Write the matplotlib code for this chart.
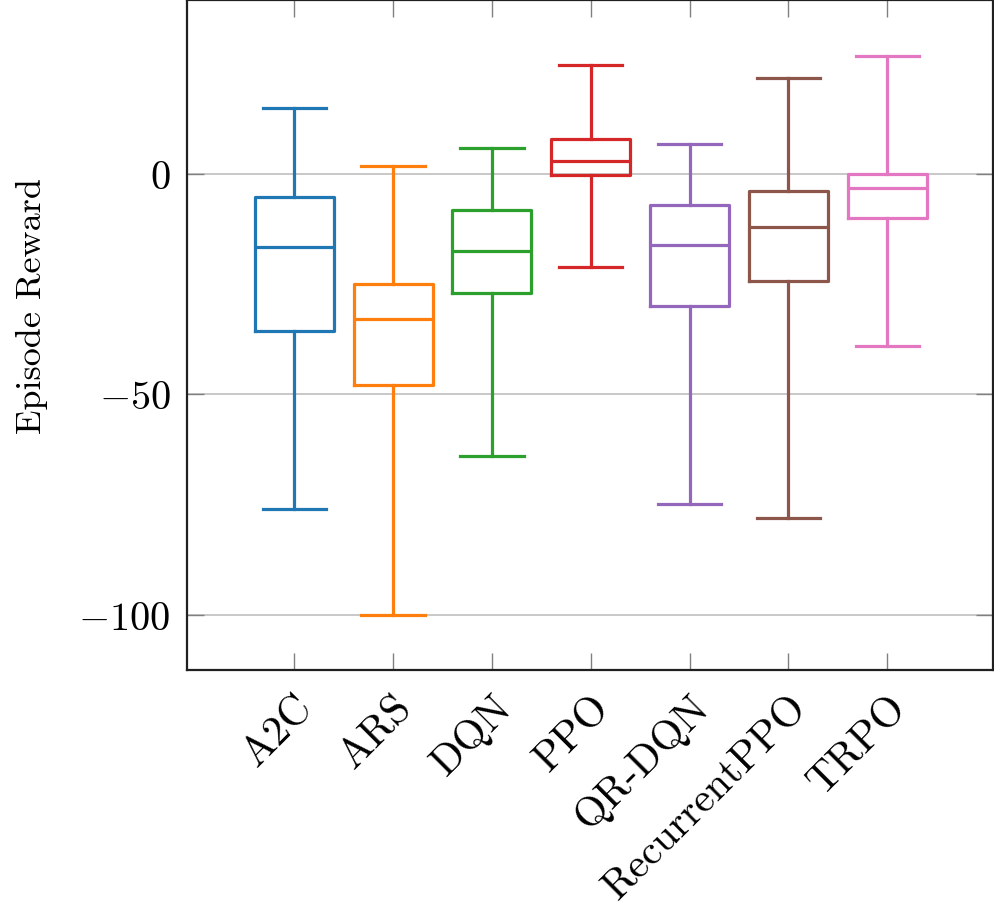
import matplotlib
matplotlib.use("Agg")
import matplotlib.pyplot as plt

plt.rcParams['font.family'] = ['cmr10', 'DejaVu Serif']
plt.rcParams['mathtext.fontset'] = 'cm'
plt.rcParams['axes.formatter.use_mathtext'] = True

categories = ["A2C", "ARS", "DQN", "PPO", "QR-DQN", "RecurrentPPO", "TRPO"]
whisker_high = [14.9, 1.9, 5.9, 24.8, 6.9, 21.8, 26.9]
q3_values = [-5.2, -25.0, -8.1, 7.9, -7.1, -3.9, -0.1]
medians = [-16.5, -33.0, -17.5, 2.9, -16.1, -12.1, -3.1]
q1_values = [-35.6, -47.9, -27.0, -0.2, -29.9, -24.3, -10.0]
whisker_low = [-76.0, -100.0, -64.0, -21.0, -75.0, -78.0, -39.0]
y_ticks = [0, -50, -100]
colors = ["#1f77b4", "#ff7f0e", "#2ca02c", "#d62728", "#9467bd", "#8c564b", "#e377c2"]

fig = plt.figure(figsize=(9.95, 9.12), dpi=100)
ax = fig.add_axes([0.1882, 0.2646, 0.9983 - 0.1882, 0.9989 - 0.2646])

ax.yaxis.grid(True, color="#c4c4c4", linewidth=1.3, zorder=0)
ax.set_axisbelow(True)

for i, name in enumerate(categories):
    st = [dict(label=name, whislo=whisker_low[i], q1=q1_values[i], med=medians[i],
               q3=q3_values[i], whishi=whisker_high[i], fliers=[])]
    c = colors[i]
    ax.bxp(st, positions=[i + 1], widths=0.8, capwidths=0.64, showfliers=False,
           boxprops=dict(color=c, linewidth=2.3),
           whiskerprops=dict(color=c, linewidth=2.3),
           capprops=dict(color=c, linewidth=2.3),
           medianprops=dict(color=c, linewidth=2.3),
           manage_ticks=False)

ax.set_xlim(-0.083, 8.073)
ax.set_ylim(-112.5, 39.5)
ax.set_xticks(range(1, len(categories) + 1))
ax.set_xticklabels(categories, rotation=45, ha="right", rotation_mode="anchor", fontsize=30)
ax.set_yticks(y_ticks)
ax.tick_params(axis="y", labelsize=29)
ax.tick_params(axis="both", direction="in", length=12, width=1, color="#808080",
               top=True, right=True)
ax.tick_params(axis="x", pad=13)
ax.tick_params(axis="y", pad=12)
for s in ax.spines.values():
    s.set_linewidth(1.6)
    s.set_color("#202020")

ax.set_ylabel("Episode Reward", fontsize=26)
ax.yaxis.set_label_coords(-0.1728, 0.5446)

fig.savefig("out.png", dpi=100)
